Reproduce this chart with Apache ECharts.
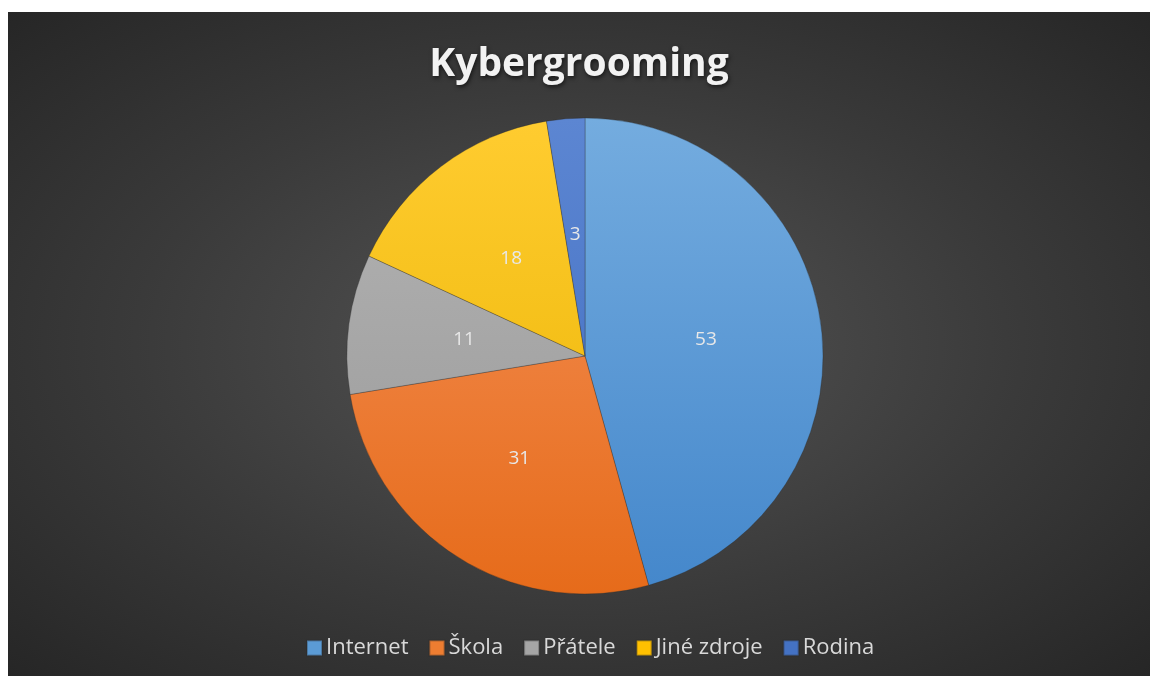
<!DOCTYPE html>
<html>
<head>
<meta charset="utf-8">
<script src="https://cdn.jsdelivr.net/npm/echarts@6/dist/echarts.min.js"></script>
<style>
  html, body { margin: 0; padding: 0; background: #ffffff; }
  #myChart {
    position: absolute;
    left: 8px;
    top: 12px;
    width: 1142px;
    height: 664px;
    background: radial-gradient(ellipse farthest-corner at 50% 50%, #555555 0%, #3a3a3a 55%, #262626 100%);
  }
</style>
</head>
<body>
<div id="myChart"></div>
<script>
// data
const categories = ['Internet', 'Škola', 'Přátele', 'Jiné zdroje', 'Rodina']
const values = [53, 31, 11, 18, 3]
// top / bottom colour for each slice gradient
const colorsTop = ['#74acdf', '#f5935c', '#b4b4b4', '#ffcc30', '#5c86d2']
const colorsBottom = ['#4487cb', '#e66b1a', '#989898', '#e9b300', '#3e6bbf']
const legendColors = ['#5b9bd5', '#ed7d31', '#a5a5a5', '#ffc000', '#4472c4']

const myChart = echarts.init(document.getElementById('myChart'))

const seriesData = values.map((v, i) => ({
  name: categories[i],
  value: v,
  itemStyle: {
    // 全局坐标: 饼图上下边缘
    color: new echarts.graphic.LinearGradient(0, 106, 0, 582, [
      { offset: 0, color: colorsTop[i] },
      { offset: 1, color: colorsBottom[i] },
    ], true),
  },
}))

const option = {
  animation: false,
  title: {
    text: 'Kybergrooming',
    left: 'center',
    top: 28,
    textStyle: {
      color: '#f2f2f2',
      fontFamily: 'Open Sans',
      fontWeight: 'bold',
      fontSize: 39,
      textShadowColor: 'rgba(0,0,0,0.6)',
      textShadowBlur: 4,
      textShadowOffsetX: 1,
      textShadowOffsetY: 2,
    },
  },
  legend: {
    bottom: 12,
    left: 293,
    itemWidth: 15,
    itemHeight: 15,
    itemGap: 20,
    icon: 'rect',
    data: categories.map((c, i) => ({ name: c, itemStyle: { color: legendColors[i] } })),
    textStyle: {
      color: '#d9d9d9',
      fontFamily: 'Open Sans',
      fontSize: 22,
      padding: [0, 0, 0, -1],
    },
  },
  series: [
    {
      type: 'pie',
      center: [577, 344],
      radius: 238,
      startAngle: 90,
      clockwise: true,
      label: {
        show: true,
        position: 'inside',
        formatter: '{c}',
        color: '#e8e8e8',
        fontFamily: 'Open Sans',
        fontSize: 19,
      },
      labelLine: { show: false },
      itemStyle: {
        borderColor: 'rgba(40,40,40,0.3)',
        borderWidth: 1,
      },
      emphasis: { disabled: true },
      data: seriesData,
    },
  ],
}

myChart.setOption(option, true)
</script>
</body>
</html>
